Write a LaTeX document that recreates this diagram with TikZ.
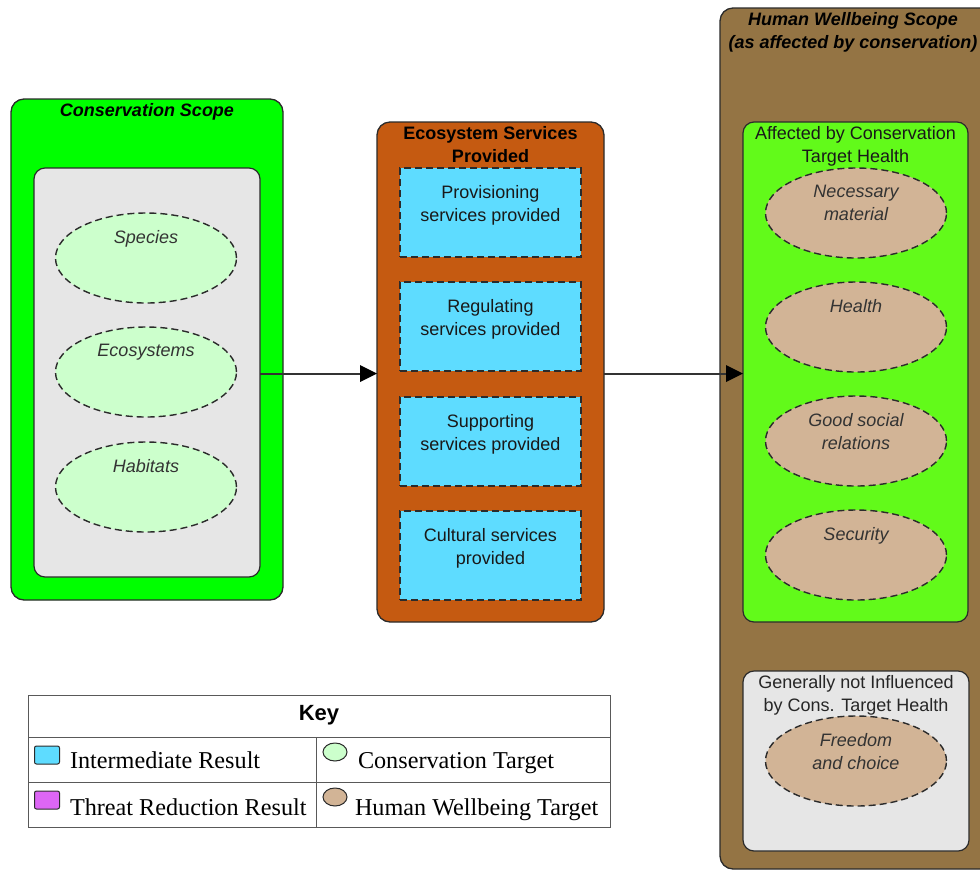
\documentclass[tikz,border=0pt]{standalone}
\usepackage{fontspec}
\setmainfont{Liberation Sans}
\newfontfamily\keyserif{Liberation Serif}
\usetikzlibrary{shapes.geometric,arrows.meta,calc}

\definecolor{consgreen}{HTML}{00FF00}
\definecolor{servorange}{HTML}{C55A11}
\definecolor{resblue}{HTML}{5EDCFF}
\definecolor{humbrown}{HTML}{947444}
\definecolor{affgreen}{HTML}{62FA1A}
\definecolor{panelgray}{HTML}{E6E6E6}
\definecolor{targetgreen}{HTML}{CCFFCC}
\definecolor{targettan}{HTML}{D2B496}
\definecolor{threatpink}{HTML}{DD66F5}
\definecolor{edgegray}{HTML}{2B2B2B}
\definecolor{labelgray}{HTML}{333333}

\tikzset{
  every node/.style={inner sep=0pt, outer sep=0pt},
  scopebox/.style={rectangle, draw=edgegray, line width=1.3pt, rounded corners=13pt, anchor=north west},
  panelbox/.style={rectangle, draw=edgegray, line width=1.2pt, rounded corners=11pt, anchor=north west},
  resultbox/.style={rectangle, draw=edgegray, fill=resblue, line width=1.4pt, dash pattern=on 7pt off 4pt,
    minimum width=181pt, minimum height=89pt, anchor=north west},
  target/.style={ellipse, draw=edgegray, line width=1.4pt, dash pattern=on 7pt off 4pt,
    minimum width=181pt, minimum height=90pt},
  constarget/.style={target, fill=targetgreen},
  humtarget/.style={target, fill=targettan},
  titletext/.style={font=\fontsize{18}{23}\selectfont\bfseries\itshape, align=center, anchor=north},
  headtext/.style={font=\fontsize{18}{23}\selectfont\bfseries, align=center, anchor=north},
  boxtext/.style={font=\fontsize{18}{23}\selectfont, text=black!90, align=center, anchor=north},
  targettext/.style={font=\fontsize{18}{23}\selectfont\itshape, text=labelgray, align=center, anchor=north},
  keytext/.style={font=\fontsize{24.2}{27}\selectfont\keyserif, anchor=base west},
  keyline/.style={draw=black!65, line width=1pt},
  flow/.style={draw=black!80, line width=2pt, -{Triangle[length=17pt,width=17pt,fill=black,line width=0pt]}},
}

\begin{document}
\begin{tikzpicture}[x=1pt, y=-1pt]
\useasboundingbox (0,0) rectangle (980,871);
\clip (0,0) rectangle (980,871);
\fill[white] (0,0) rectangle (980,871);

% ---- Conservation scope ----
\node[scopebox, fill=consgreen, minimum width=272pt, minimum height=501pt] (cons) at (11,99) {};
\node[titletext] (conslbl) at ($(cons.north)+(0,4)$) {Conservation Scope};
\node[panelbox, fill=panelgray, minimum width=226pt, minimum height=409pt] (consin) at (34,168) {};

\node[constarget] (species) at (146,258) {};
\node[targettext] (speciesl) at ($(species.north)+(0,17)$) {Species};
\node[constarget] (ecosys) at (146,372) {};
\node[targettext] (ecosysl) at ($(ecosys.north)+(0,17)$) {Ecosystems};
\node[constarget] (habitat) at (146,487) {};
\node[targettext] (habitatl) at ($(habitat.north)+(0,17)$) {Habitats};

% ---- Ecosystem services ----
\node[scopebox, fill=servorange, minimum width=227pt, minimum height=500pt] (serv) at (377,122) {};
\node[headtext] (servlbl) at ($(serv.north)+(0,4)$) {Ecosystem Services\\Provided};

\node[resultbox] (prov) at (400,168) {};
\node[boxtext] (provl) at ($(prov.north)+(0,17)$) {Provisioning\\services provided};
\node[resultbox] (regu) at (400,282) {};
\node[boxtext] (regul) at ($(regu.north)+(0,17)$) {Regulating\\services provided};
\node[resultbox] (supp) at (400,397) {};
\node[boxtext] (suppl) at ($(supp.north)+(0,17)$) {Supporting\\services provided};
\node[resultbox] (cult) at (400,511) {};
\node[boxtext] (cultl) at ($(cult.north)+(0,17)$) {Cultural services\\provided};

% ---- Human wellbeing scope ----
\node[scopebox, fill=humbrown, minimum width=290pt, minimum height=861pt] (hum) at (720,8) {};
\node[titletext] (humlbl) at (853,12) {Human Wellbeing Scope\\(as affected by conservation)};

\node[panelbox, fill=affgreen, minimum width=225pt, minimum height=500pt] (aff) at (743,122) {};
\node[boxtext] (affl) at ($(aff.north)+(0,4)$) {Affected by Conservation\\Target Health};

\node[humtarget] (material) at (856,213) {};
\node[targettext] (materiall) at ($(material.north)+(0,17)$) {Necessary\\material};
\node[humtarget] (health) at (856,327) {};
\node[targettext] (healthl) at ($(health.north)+(0,17)$) {Health};
\node[humtarget] (social) at (856,441) {};
\node[targettext] (sociall) at ($(social.north)+(0,17)$) {Good social\\relations};
\node[humtarget] (security) at (856,555) {};
\node[targettext] (securityl) at ($(security.north)+(0,17)$) {Security};

\node[panelbox, fill=panelgray, minimum width=226pt, minimum height=180pt] (notinf) at (743,671) {};
\node[boxtext, text=black!85] (notinfl) at ($(notinf.north)+(0,4)$) {Generally not Influenced\\by Cons. Target Health};
\node[humtarget] (freedom) at (856,761) {};
\node[targettext] (freedoml) at ($(freedom.north)+(0,17)$) {Freedom\\and choice};

% ---- Connectors (kept level with the services box centre) ----
\coordinate (flowin) at ([yshift=-1.5pt]serv.west);
\coordinate (flowout) at ([yshift=-1.5pt]serv.east);
\draw[flow] (flowin -| consin.east) -- (flowin);
\draw[flow] (flowout) -- (flowout -| aff.west);

% ---- Key ----
\draw[keyline] (28,695) rectangle (610,827);
\draw[keyline] (28,737) -- (610,737);
\draw[keyline] (28,782) -- (610,782);
\draw[keyline] (316,737) -- (316,827);
\node[font=\fontsize{22}{26}\selectfont\bfseries] (keyhead) at (319,715) {Key};

\node[rectangle, draw=edgegray, fill=resblue, line width=1pt, rounded corners=2pt,
      minimum width=25pt, minimum height=18pt] (keyblue) at (47,755) {};
\node[keytext] (keyblutxt) at (70,768) {Intermediate Result};
\node[rectangle, draw=edgegray, fill=threatpink, line width=1pt, rounded corners=2pt,
      minimum width=25pt, minimum height=18pt] (keypink) at (47,800) {};
\node[keytext] (keypinktxt) at (70,815) {Threat Reduction Result};
\node[ellipse, draw=edgegray, fill=targetgreen, line width=1pt,
      minimum width=24pt, minimum height=18pt] (keygreen) at (335,752) {};
\node[keytext] (keygreentxt) at (358,768) {Conservation Target};
\node[ellipse, draw=edgegray, fill=targettan, line width=1pt,
      minimum width=24pt, minimum height=18pt] (keytan) at (335,797) {};
\node[keytext] (keytantxt) at (355,815) {Human Wellbeing Target};
\end{tikzpicture}
\end{document}
